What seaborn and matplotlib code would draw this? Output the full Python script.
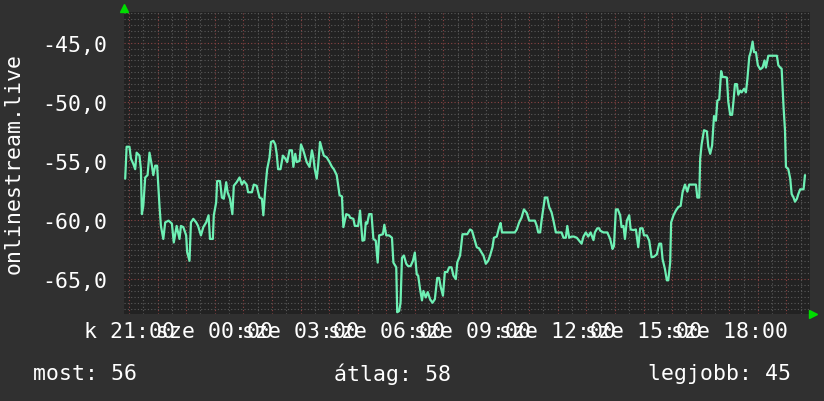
import matplotlib
matplotlib.use("Agg")
import matplotlib.pyplot as plt
from matplotlib.ticker import MultipleLocator, FixedLocator, FuncFormatter
import seaborn as sns
import pandas as pd

# minutes relative to 21:00 (first day)
minutes = [-8, -5, 1, 4, 9, 13, 16, 22, 25, 27, 30, 34, 39, 43, 48, 51, 55, 59, 64, 67,
           72, 76, 83, 90, 94, 100, 106, 109, 114, 120, 122, 127, 130, 135, 141, 145, 151, 156, 162, 167,
           170, 176, 178, 183, 185, 191, 195, 199, 204, 207, 212, 217, 220, 226, 232, 237, 241, 247, 250, 258,
           262, 268, 274, 279, 282, 286, 290, 295, 298, 303, 307, 310, 313, 318, 323, 328, 332, 337, 342, 345,
           349, 352, 358, 361, 365, 368, 373, 379, 384, 387, 390, 394, 397, 401, 405, 409, 415, 421, 426, 430,
           436, 442, 447, 450, 456, 462, 464, 471, 474, 481, 485, 490, 494, 497, 500, 504, 509, 513, 518, 522,
           525, 533, 536, 540, 546, 552, 555, 561, 563, 567, 570, 573, 577, 582, 586, 591, 596, 600, 604, 607,
           611, 615, 618, 623, 627, 632, 637, 642, 647, 651, 654, 659, 663, 668, 672, 677, 681, 686, 689, 695,
           700, 705, 710, 716, 720, 725, 730, 735, 740, 744, 749, 754, 758, 763, 766, 772, 777, 780, 783, 789,
           800, 810, 814, 819, 824, 829, 835, 840, 845, 852, 856, 859, 863, 866, 870, 873, 878, 882, 887, 891,
           896, 901, 908, 912, 917, 920, 924, 929, 934, 940, 945, 950, 954, 959, 964, 969, 975, 978, 983, 987,
           989, 996, 1004, 1010, 1015, 1018, 1022, 1026, 1031, 1034, 1038, 1041, 1045, 1050, 1053, 1059, 1064, 1069, 1073, 1078,
           1081, 1087, 1092, 1097, 1102, 1108, 1113, 1117, 1120, 1125, 1129, 1132, 1136, 1138, 1143, 1148, 1153, 1158, 1162, 1167,
           1172, 1176, 1185, 1190, 1193, 1197, 1199, 1202, 1207, 1213, 1216, 1220, 1224, 1228, 1232, 1235, 1239, 1243, 1246, 1251,
           1255, 1258, 1262, 1266, 1269, 1272, 1276, 1279, 1283, 1286, 1291, 1295, 1298, 1302, 1305, 1309, 1312, 1316, 1320, 1325,
           1330, 1334, 1337, 1342, 1349, 1356, 1360, 1363, 1367, 1370, 1374, 1377, 1379, 1384, 1388, 1391, 1395, 1398, 1402, 1405,
           1409, 1412, 1416, 1419]

values = [-56.5, -53.8, -53.8, -54.8, -55.25, -55.7, -54.3, -54.55, -55.7, -59.5, -58.8, -56.4, -56.2, -54.3, -55.4, -56.2, -55.4, -55.4, -58.8, -60.5,
          -61.6, -60.2, -60.05, -60.3, -61.9, -60.5, -61.6, -60.5, -60.6, -61.3, -62.7, -63.45, -60.2, -59.9, -60.2, -60.5, -61.3, -60.6, -60.2, -59.6,
          -61.6, -61.6, -59.6, -58.5, -56.7, -56.7, -58.1, -58.2, -56.8, -57.65, -58.2, -59.5, -57.1, -56.8, -56.4, -57.0, -56.7, -57.0, -57.65, -57.65,
          -57.0, -57.1, -58.1, -58.2, -59.6, -57.4, -55.7, -54.7, -53.4, -53.3, -53.6, -54.4, -55.7, -55.7, -54.55, -54.8, -55.1, -54.1, -54.1, -55.5,
          -54.4, -55.1, -55.0, -53.6, -54.0, -54.4, -55.1, -55.5, -54.1, -54.7, -55.7, -56.5, -55.4, -53.4, -54.0, -54.55, -54.7, -55.1, -55.5, -55.7,
          -56.2, -57.9, -58.0, -60.6, -59.5, -59.6, -59.8, -59.9, -60.5, -60.5, -59.2, -61.75, -61.7, -60.2, -60.3, -59.5, -59.5, -61.6, -61.75, -63.6,
          -61.3, -61.2, -60.4, -61.3, -61.3, -61.5, -63.6, -64.0, -67.8, -67.7, -67.0, -63.2, -63.0, -63.7, -63.9, -63.9, -63.45, -62.75, -64.6, -64.7,
          -65.85, -66.8, -66.0, -66.55, -66.1, -66.7, -67.0, -66.7, -64.9, -64.9, -65.6, -66.4, -64.4, -64.4, -64.0, -64.0, -64.7, -65.0, -63.6, -63.0,
          -61.2, -61.2, -61.2, -60.8, -60.9, -61.6, -62.3, -62.4, -62.75, -63.0, -63.7, -63.45, -63.0, -62.3, -61.5, -61.4, -60.6, -60.25, -61.05, -61.05,
          -61.05, -61.05, -60.8, -60.2, -59.8, -59.1, -59.4, -60.05, -60.05, -60.05, -60.5, -61.05, -61.05, -60.05, -58.9, -58.1, -58.1, -58.9, -59.35, -60.05,
          -61.05, -61.05, -61.05, -61.5, -61.5, -60.5, -61.5, -61.4, -61.4, -61.5, -61.75, -62.0, -61.4, -61.05, -61.4, -61.05, -61.7, -61.05, -60.7, -60.7,
          -60.9, -61.05, -61.05, -61.6, -62.45, -62.2, -59.1, -59.1, -59.6, -60.6, -60.5, -61.6, -60.05, -59.6, -60.8, -60.85, -60.8, -62.3, -60.7, -60.7,
          -61.3, -61.3, -61.75, -63.15, -63.1, -62.9, -62.0, -62.0, -63.3, -64.15, -65.1, -65.1, -63.6, -60.2, -59.6, -59.2, -58.9, -58.8, -57.65, -57.0,
          -57.6, -57.0, -57.0, -57.0, -58.1, -58.1, -54.8, -53.6, -52.4, -52.5, -53.8, -54.4, -53.7, -51.2, -51.6, -49.9, -49.8, -47.4, -47.9, -47.9,
          -47.95, -50.0, -51.1, -51.1, -49.9, -48.5, -48.5, -49.4, -49.05, -49.2, -48.9, -49.2, -48.1, -46.2, -45.8, -44.9, -45.8, -45.8, -46.9, -47.25,
          -47.1, -46.5, -47.1, -46.1, -46.1, -46.1, -46.1, -46.9, -47.1, -47.2, -50.45, -52.4, -55.5, -55.7, -56.5, -57.8, -58.1, -58.45, -58.2, -57.8,
          -57.4, -57.4, -57.4, -56.2]

tick_minutes = [0, 180, 360, 540, 720, 900, 1080, 1260]
tick_labels = ["k 21:00", "sze 00:00", "sze 03:00", "sze 06:00", "sze 09:00",
               "sze 12:00", "sze 15:00", "sze 18:00"]
y_ticks = [-65, -60, -55, -50, -45]
y_label = "onlinestream.live"
stat_labels = ["most: 56", "átlag: 58", "legjobb: 45"]

df = pd.DataFrame({"t": minutes, "v": values})

sns.set_theme(style="dark")
plt.rcParams["font.family"] = ["DejaVu Sans Mono", "DejaVu Sans"]

BG = "#303030"
AX = "#222222"
FG = "#ffffff"
LINE = "#6ef0b4"

fig = plt.figure(figsize=(8.24, 4.02), dpi=100, facecolor=BG)
ax = fig.add_axes([124 / 824, 1 - 315 / 402, (810 - 124) / 824, (315 - 13) / 402])
ax.set_facecolor(AX)

sns.lineplot(data=df, x="t", y="v", ax=ax, color=LINE, linewidth=1.6, zorder=3)

ax.set_xlim(-10.5, 1429.5)
ax.set_ylim(-67.95, -42.4)

# grid: major hourly red, minor half-hourly gray
ax.xaxis.set_major_locator(FixedLocator(list(range(0, 1440, 60))))
ax.xaxis.set_minor_locator(MultipleLocator(30))
lab_map = dict(zip(tick_minutes, tick_labels))
ax.xaxis.set_major_formatter(FuncFormatter(lambda x, p: lab_map.get(int(round(x)), "")))
ax.yaxis.set_major_locator(FixedLocator(y_ticks))
ax.yaxis.set_minor_locator(MultipleLocator(0.5))
ax.yaxis.set_major_formatter(FuncFormatter(lambda y, p: f"{y:.1f}".replace(".", ",")))

ax.grid(which="minor", color="#5a5a5a", linestyle=(0, (1, 2)), linewidth=0.8)
ax.grid(which="major", color="#8a4444", linestyle=(0, (1, 2)), linewidth=0.8)
ax.set_axisbelow(True)

ax.tick_params(which="both", length=0)
ax.tick_params(axis="x", colors=FG, labelsize=15.5, pad=5)
ax.tick_params(axis="y", colors=FG, labelsize=15.5, pad=12)
ax.set_xlabel("")
ax.set_ylabel("")
for s in ax.spines.values():
    s.set_visible(False)

# arrows at axis ends
ax.plot([0], [1.012], marker="^", color="#00dd00", markersize=6, transform=ax.transAxes,
        clip_on=False, zorder=5)
ax.plot([1.004], [0.0], marker=">", color="#00dd00", markersize=6, transform=ax.transAxes,
        clip_on=False, zorder=5)

fig.text(14 / 824, 1 - 164 / 402, y_label, rotation=90, color=FG, fontsize=15.5,
         ha="center", va="center")
fig.text(33 / 824, 1 - 374 / 402, stat_labels[0], color=FG, fontsize=15.5, ha="left", va="center")
fig.text(334 / 824, 1 - 374 / 402, stat_labels[1], color=FG, fontsize=15.5, ha="left", va="center")
fig.text(791 / 824, 1 - 374 / 402, stat_labels[2], color=FG, fontsize=15.5, ha="right", va="center")

fig.savefig("out.png", dpi=100, facecolor=BG)
